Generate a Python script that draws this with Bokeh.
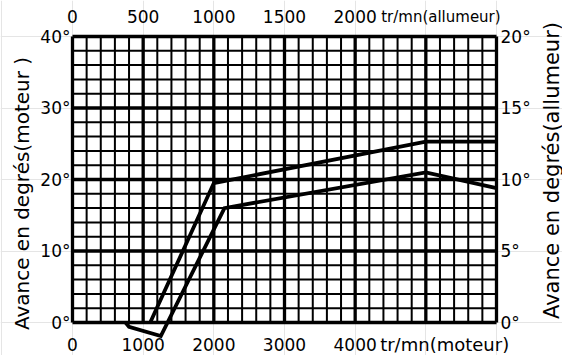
import numpy as np
from bokeh.plotting import figure
from bokeh.models import Range1d
from bokeh.core.properties import value
from bokeh.embed import file_html
from bokeh.resources import INLINE

# ---- data ----
upper_rpm = [1100, 2000, 5000, 6000]
upper_deg = [0, 19.5, 25.3, 25.3]
lower_rpm = [750, 800, 1250, 2150, 5000, 6000]
lower_deg = [0, -0.6, -1.9, 16.0, 21.0, 18.8]

bottom_ticks = [0, 1000, 2000, 3000, 4000]           # tr/mn moteur
top_ticks = [0, 500, 1000, 1500, 2000]               # tr/mn allumeur
left_ticks = [0, 10, 20, 30, 40]                     # degres moteur
right_ticks = [0, 5, 10, 15, 20]                     # degres allumeur
left_labels = ["0°", "10°", "20°", "30°", "40°"]
right_labels = ["0°", "5°", "10°", "15°", "20°"]

X_MAX, Y_MAX = 6000, 40
X_STEP_MINOR, X_STEP_MAJOR = 200, 1000
Y_STEP_MINOR, Y_STEP_MAJOR = 2, 10

# ---- layout (pixels) ----
W, H = 562, 355
FX0, FX1 = 72, 496      # pixel x of rpm 0 and X_MAX
FY0, FY1 = 322, 36      # pixel y of 0 deg and Y_MAX
kx = (FX1 - FX0) / X_MAX
ky = (FY0 - FY1) / Y_MAX

def px2x(px):
    return (px - FX0) / kx

def py2y(py):
    return (FY0 - py) / ky

p = figure(width=W, height=H, output_backend="svg", toolbar_location=None,
           x_range=Range1d(px2x(0), px2x(W)), y_range=Range1d(py2y(H), py2y(0)),
           x_axis_location=None, y_axis_location=None, min_border=0)
p.outline_line_color = None
p.background_fill_color = "white"
p.border_fill_color = "white"

# ---- grid ----
xs_all = np.arange(0, X_MAX + 1, X_STEP_MINOR)
ys_all = np.arange(0, Y_MAX + 1, Y_STEP_MINOR)
xs_minor = [x for x in xs_all if x % X_STEP_MAJOR]
xs_major = [x for x in xs_all if not x % X_STEP_MAJOR]
ys_minor = [y for y in ys_all if y % Y_STEP_MAJOR]
ys_major = [y for y in ys_all if not y % Y_STEP_MAJOR]

p.segment(x0=xs_minor, y0=0, x1=xs_minor, y1=Y_MAX, line_color="black", line_width=2.0)
p.segment(x0=0, y0=ys_minor, x1=X_MAX, y1=ys_minor, line_color="black", line_width=2.0)
p.segment(x0=xs_major, y0=0, x1=xs_major, y1=Y_MAX, line_color="black", line_width=3.3)
p.segment(x0=0, y0=ys_major, x1=X_MAX, y1=ys_major, line_color="black", line_width=3.3)

# ---- curves ----
p.line(upper_rpm, upper_deg, line_color="black", line_width=3.8, line_join="miter")
p.line(lower_rpm, lower_deg, line_color="black", line_width=3.8, line_join="miter")

FONT = value("DejaVu Sans")

# left ticks
p.text(x=[0] * len(left_ticks), y=left_ticks, text=left_labels, x_offset=-2,
       text_align="right", text_baseline="middle", text_font=FONT,
       text_font_size="17px", text_color="black")
# right ticks (allumeur deg = moteur / 2)
p.text(x=[X_MAX] * len(right_ticks), y=[2 * v for v in right_ticks], text=right_labels,
       x_offset=4, text_align="left", text_baseline="middle", text_font=FONT,
       text_font_size="17px", text_color="black")
# bottom ticks
p.text(x=bottom_ticks, y=[0] * len(bottom_ticks), text=[str(v) for v in bottom_ticks],
       y_offset=22, text_align="center", text_baseline="middle", text_font=FONT,
       text_font_size="17px", text_color="black")
# top ticks (allumeur rpm = moteur / 2)
p.text(x=[2 * v for v in top_ticks], y=[Y_MAX] * len(top_ticks), text=[str(v) for v in top_ticks],
       y_offset=-20, text_align="center", text_baseline="middle", text_font=FONT,
       text_font_size="17px", text_color="black")

# units
p.text(x=[bottom_ticks[-1]], y=[0], text=["tr/mn(moteur)"], x_offset=25, y_offset=22,
       text_align="left", text_baseline="middle", text_font=FONT,
       text_font_size="18px", text_color="black")
p.text(x=[2 * top_ticks[-1]], y=[Y_MAX], text=["tr/mn(allumeur)"], x_offset=26, y_offset=-20,
       text_align="left", text_baseline="middle", text_font=FONT,
       text_font_size="15px", text_color="black")

# axis titles
p.text(x=[px2x(21)], y=[py2y(193)], text=["Avance en degrés(moteur )"], angle=np.pi / 2,
       text_align="center", text_baseline="middle", text_font=FONT,
       text_font_size="20px", text_color="black")
p.text(x=[px2x(551)], y=[py2y(170)], text=["Avance en degrés(allumeur)"], angle=np.pi / 2,
       text_align="center", text_baseline="middle", text_font=FONT,
       text_font_size="21px", text_color="black")

open("out.html", "w").write(file_html(p, INLINE))
